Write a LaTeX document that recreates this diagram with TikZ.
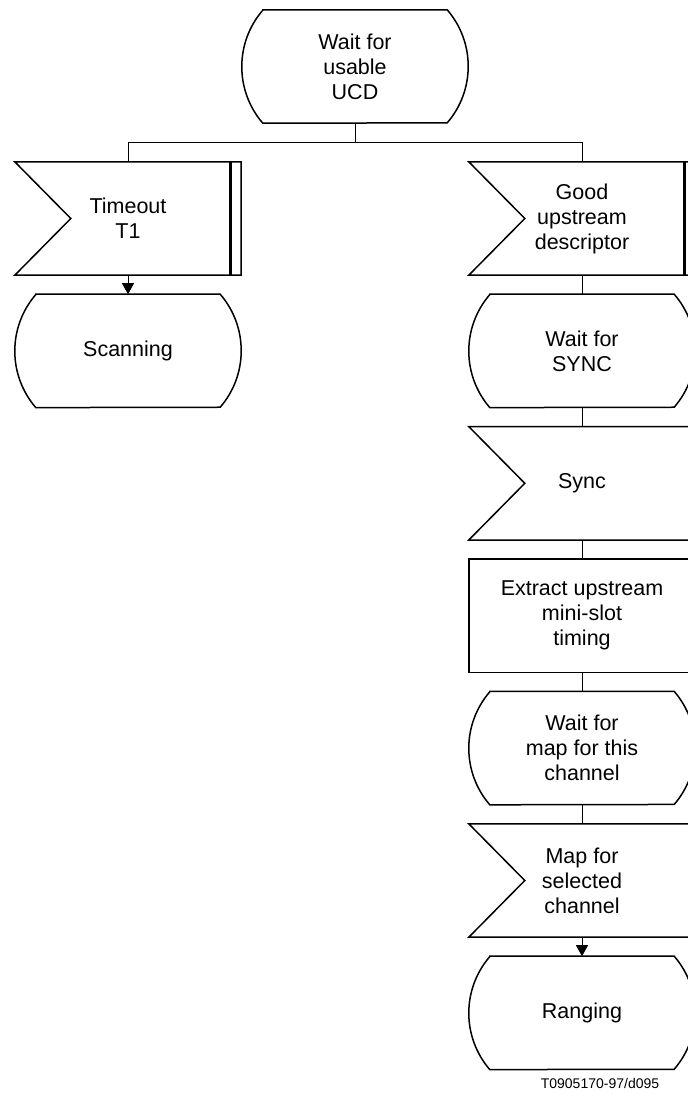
\documentclass[tikz,border=0pt]{standalone}
\usepackage{fontspec}
\setmainfont{Liberation Sans}
\usetikzlibrary{positioning,arrows.meta}
\tikzset{
	sdlbox/.style={minimum width=226pt, minimum height=113pt, inner sep=0pt, align=center, font=\fontsize{21.5}{25}\selectfont},
	outline/.style={line width=1.5pt, line join=miter},
	timerbar/.style={line width=3pt},
	conn/.style={line width=1pt},
	arr/.style={conn, -{Triangle[length=11pt,width=12pt]}}
}
\begin{document}
\begin{tikzpicture}[x=1pt,y=1pt,node distance=19pt]
			\clip (0,0) rectangle (688,-1093);
			\path (355,-66.5) node[sdlbox] (ucd) {Wait for\\usable\\UCD};
			\path (128,-218.5) node[sdlbox] (timeout) {Timeout\\T1};
			\node[sdlbox, below=of timeout] (scan) {Scanning};
			\path (582,-218.5) node[sdlbox] (good) {Good\\upstream\\descriptor};
			\node[sdlbox, below=of good] (waitsync) {Wait for\\SYNC};
			\node[sdlbox, below=of waitsync] (sync) {Sync};
			\node[sdlbox, below=of sync] (extract) {Extract upstream\\mini-slot\\timing};
			\node[sdlbox, below=of extract] (waitmap) {Wait for\\map for this\\channel};
			\node[sdlbox, below=of waitmap] (mapsel) {Map for\\selected\\channel};
			\node[sdlbox, below=of mapsel] (ranging) {Ranging};
			\path (600,-1083) node[font=\fontsize{14}{16}\selectfont] (code) {T0905170-97/d095};
			% states
			\foreach \n in {ucd,scan,waitsync,waitmap,ranging}
				\draw[outline] ([xshift=21pt]\n.north west) -- ([xshift=-21pt]\n.north east)
				arc[start angle=40.8, end angle=-40.8, radius=86.5pt]
				-- ([xshift=21pt]\n.south west)
				arc[start angle=220.8, end angle=139.2, radius=86.5pt] -- cycle;
			% input signals
			\foreach \n in {timeout,good,sync,mapsel}
				\draw[outline] (\n.north west) -- (\n.north east) -- (\n.south east)
				-- (\n.south west) -- ([xshift=56pt]\n.west) -- cycle;
			\foreach \n in {timeout,good}
				\draw[timerbar] ([xshift=-11pt]\n.north east) -- ([xshift=-11pt]\n.south east);
			\draw[outline] (extract.north west) rectangle (extract.south east);
			% connectors
			\draw[conn] (ucd.south) -- ++(0,-19) coordinate (fork);
			\draw[conn] (timeout.north) |- (fork) -| (good.north);
			\draw[arr] (timeout) -- (scan);
			\draw[conn] (good) -- (waitsync);
			\draw[conn] (waitsync) -- (sync);
			\draw[conn] (sync) -- (extract);
			\draw[conn] (extract) -- (waitmap);
			\draw[conn] (waitmap) -- (mapsel);
			\draw[arr] (mapsel) -- (ranging);
		\end{tikzpicture}
\end{document}
